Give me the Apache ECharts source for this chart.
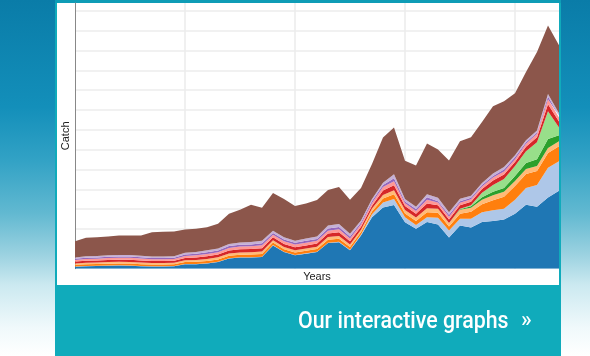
<!DOCTYPE html>
<html><head><meta charset="utf-8">
<script src="https://cdn.jsdelivr.net/npm/echarts@6/dist/echarts.min.js"></script>
<style>html,body{margin:0;padding:0;background:#fff;}#c{width:590px;height:356px;}</style>
</head><body><div id="c"></div>
<script>
const years = ['1970','1971','1972','1973','1974','1975','1976','1977','1978','1979',
  '1980','1981','1982','1983','1984','1985','1986','1987','1988','1989',
  '1990','1991','1992','1993','1994','1995','1996','1997','1998','1999',
  '2000','2001','2002','2003','2004','2005','2006','2007','2008','2009',
  '2010','2011','2012','2013','2014'];

const blue = [2.0,2.5,2.8,3.0,3.2,3.0,2.5,2.2,2.2,2.5, 4.5,4.5,5.2,6.8,10.2,11.2,11.2,11.8,23.5,16.8,
  13.5,15.2,16.8,25.8,26.8,18.5,33.5,51.8,61.8,64.2, 46.8,40.2,47,44.5,31.5,43.5,41.5,47,48,49.5, 55.5,64.5,62.5,71.8,78.5];
const lightBlue = [0.3,0.3,0.3,0.3,0.3,0.3,0.3,0.3,0.3,0.3, 0.3,0.3,0.3,0.3,0.3,0.3,0.3,0.3,0.3,0.3,
  0.3,0.3,0.3,0.5,0.5,0.5,1,3,5,6, 5,4,5,7,7,7,9,10,11,11, 14,17,22,30,30];
const orange = [1.6,1.7,1.7,1.8,1.8,1.9,1.8,1.7,1.7,1.7, 2.0,2.1,2.3,2.3,2.6,2.6,2.7,2.8,2.6,2.6,
  2.6,2.6,2.7,3,3,2.8,2.5,3,4,5, 4,4,5,5,4,5,7,8,10,12, 14,14,14,15,15];
const lightOrange = [1.4,1.5,1.5,1.6,1.6,1.6,1.6,1.5,1.5,1.5, 1.7,1.9,2.0,2.1,2.2,2.3,2.4,2.5,2.2,2.2,
  2.2,2.3,2.4,2.7,2.8,2.6,2.4,2.8,3.5,4, 3.5,3.5,4,4,3.5,4,4,4.5,5,5, 5,5,5,5,5];
const green = [0,0,0,0,0,0,0,0,0,0, 0,0,0,0,0,0,0,0,0,0,
  0,0,0,0,0,0,0,0,0,0, 0,0,0,0,0,0.5,1.5,2.5,3.5,4, 5,6,7,9,6];
const lightGreen = [0,0,0,0,0,0,0,0,0,0, 0,0,0,0,0,0,0,0,0,0,
  0,0,0,0,0,0,0,0,0,0, 0,0,0,0,0,0.5,1,4.5,7,9, 10,12,17,28,8];
const red = [1.9,2.0,2.0,2.1,2.2,2.2,2.1,2.0,2.0,2.0, 2.3,2.5,2.7,2.7,3.0,3.1,3.2,3.3,3.0,3.0,
  3.0,3.1,3.1,3.4,3.6,3.2,2.9,2.8,4.5,5, 3.9,3.8,4.8,3.5,3.5,3.5,3.5,4,4.5,4.5, 4,4.5,5,7,6];
const pink = [1.7,1.8,1.8,1.9,1.9,2.0,1.9,1.8,1.8,1.8, 2.1,2.2,2.4,2.5,2.7,2.8,2.8,3.0,2.7,2.7,
  2.7,2.8,2.8,3,3.2,2.9,2.5,2.8,3.5,4, 2.8,2.8,3.8,2.7,2.8,2.5,2.5,2.5,3,3, 3,3,3.5,5,4];
const purple = [1.1,1.2,1.2,1.3,1.3,1.3,1.3,1.2,1.2,1.2, 1.4,1.5,1.6,1.6,1.8,1.8,1.9,2.0,1.8,1.8,
  1.8,1.8,1.9,2.1,2.2,2,1.7,2,2.2,3, 1.9,1.9,2.4,1.3,2,1.5,1.5,1.5,1.5,2, 2,1.5,1.5,3,2];
const lightPurple = [1.4,1.5,1.5,1.6,1.6,1.6,1.6,1.5,1.5,1.5, 1.7,1.9,2.0,2.1,2.2,2.3,2.4,2.5,2.2,2.2,
  2.2,2.3,2.4,3,3.1,2.7,2,2,2.3,4, 2.3,2.3,3.2,3.5,2.7,2.5,2,2,2.5,2.5, 2,2,2,2.4,2.3];
const brown = [16.3,18.7,19,19,19.5,19.5,20.5,24.5,25,25, 23.5,23.5,23.3,25,30.3,33,37.5,33.3,38,38.7,
  35,35.3,37,36,37.3,34.3,33,35.3,45.5,47.2, 38.7,41.5,51.2,48.8,52.2,58,59,61.5,67.8,66.4, 62.5,69,79,69,68.6];

const layers = [
  ['Layer 1', blue, '#1f77b4'],
  ['Layer 2', lightBlue, '#aec7e8'],
  ['Layer 3', orange, '#ff7f0e'],
  ['Layer 4', lightOrange, '#ffbb78'],
  ['Layer 5', green, '#2ca02c'],
  ['Layer 6', lightGreen, '#98df8a'],
  ['Layer 7', red, '#d62728'],
  ['Layer 8', pink, '#ff9896'],
  ['Layer 9', purple, '#9467bd'],
  ['Layer 10', lightPurple, '#c5b0d5'],
  ['Layer 11', brown, '#8c564b']
];

const chart = echarts.init(document.getElementById('c'), null, {renderer: 'canvas'});
chart.setOption({
  animation: false,
  graphic: [
    {type: 'rect', z: -100, silent: true, shape: {x: 0, y: 0, width: 590, height: 356},
      style: {fill: new echarts.graphic.LinearGradient(0, 0, 0, 1, [
        {offset: 0, color: '#0a7ca8'}, {offset: 0.3, color: '#138fba'},
        {offset: 0.45, color: '#32a2c5'}, {offset: 0.6, color: '#62b9d1'},
        {offset: 0.72, color: '#9ed3e1'}, {offset: 0.8, color: '#cbe9f0'},
        {offset: 0.92, color: '#f0f9fb'}, {offset: 1, color: '#ffffff'}])}},
    {type: 'rect', z: -90, silent: true, shape: {x: 55, y: 0, width: 506, height: 356}, style: {fill: '#10abbb'}},
    {type: 'rect', z: -89, silent: true, shape: {x: 55, y: 0, width: 506, height: 3}, style: {fill: '#0e9cb6'}},
    {type: 'rect', z: -80, silent: true, shape: {x: 57, y: 3, width: 502, height: 282}, style: {fill: '#ffffff'}},
    {type: 'text', z: 100, x: 298, y: 322, scaleX: 0.89, silent: true,
      style: {text: 'Our interactive graphs', fill: '#ffffff', fontSize: 24, fontWeight: 500, fontFamily: 'Roboto', textAlign: 'left', textVerticalAlign: 'middle'}},
    {type: 'text', z: 100, x: 521, y: 321, silent: true,
      style: {text: '»', fill: '#ffffff', fontSize: 22, fontWeight: 500, fontFamily: 'Roboto', textAlign: 'left', textVerticalAlign: 'middle'}}
  ],
  grid: {left: 75, right: 31, top: 3, bottom: 87.3},
  xAxis: {
    type: 'category', data: years, boundaryGap: false,
    axisLine: {show: false}, axisTick: {show: false}, axisLabel: {show: false},
    splitLine: {show: true, interval: function (i) { return i > 0 && i % 10 === 0; },
      lineStyle: {color: '#ebebeb', width: 1.5}},
    name: 'Years', nameLocation: 'middle', nameGap: 3,
    nameTextStyle: {color: '#222', fontSize: 11, fontFamily: 'Liberation Sans', verticalAlign: 'top'}
  },
  yAxis: {
    type: 'value', min: 0, max: 268, interval: 20,
    axisLine: {show: true, lineStyle: {color: '#888888', width: 1}},
    axisTick: {show: false}, axisLabel: {show: false},
    splitLine: {show: true, showMinLine: false, showMaxLine: false, lineStyle: {color: '#ececec', width: 1.5}},
    name: 'Catch', nameLocation: 'middle', nameGap: 4,
    nameTextStyle: {color: '#222', fontSize: 11, fontFamily: 'Liberation Sans'}
  },
  series: layers.map(function (l) {
    return {
      name: l[0], type: 'line', stack: 'catch', data: l[1],
      symbol: 'none', smooth: false,
      lineStyle: {width: 0, color: l[2]},
      areaStyle: {color: l[2], opacity: 1},
      itemStyle: {color: l[2]}
    };
  })
});
</script>
</body></html>
